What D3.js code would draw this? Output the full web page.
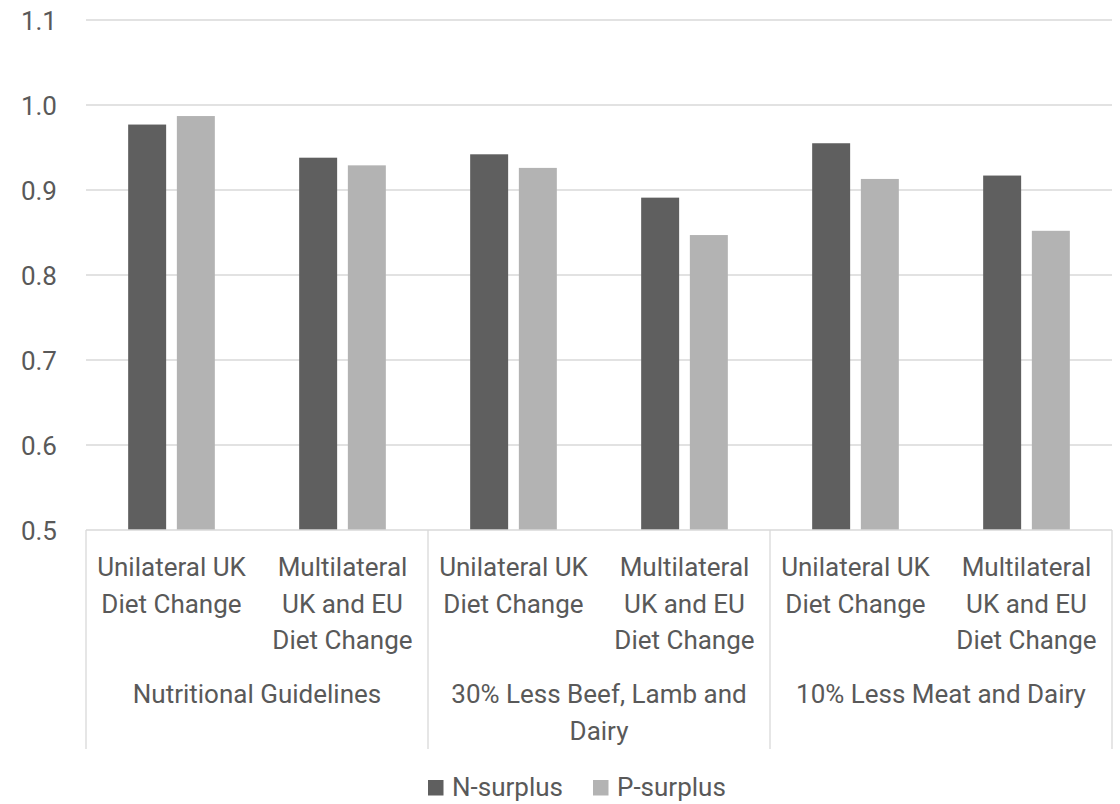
<!DOCTYPE html>
<html>
<head>
<meta charset="utf-8">
<script src="https://cdn.jsdelivr.net/npm/d3@7"></script>
<style>
  html, body { margin: 0; padding: 0; background: #ffffff; }
  svg { display: block; }
  text { font-family: Roboto, "Noto Sans", sans-serif; fill: #595959; }
</style>
</head>
<body>
<svg id="chart" width="1120" height="804"></svg>
<script>
// Scenario groups and the two diet-change variants within each
const groups = [
  ["Nutritional Guidelines"],
  ["30% Less Beef, Lamb and", "Dairy"],
  ["10% Less Meat and Dairy"]
];
const subLabels = [
  ["Unilateral UK", "Diet Change"],
  ["Multilateral", "UK and EU", "Diet Change"]
];
const seriesNames = ["N-surplus", "P-surplus"];
const nSurplus = [0.977, 0.938, 0.942, 0.891, 0.955, 0.917];
const pSurplus = [0.987, 0.929, 0.926, 0.847, 0.913, 0.852];
const yTicks = [0.5, 0.6, 0.7, 0.8, 0.9, 1.0, 1.1];

const colors = { "N-surplus": "#5f5f5f", "P-surplus": "#b3b3b3" };
const gridColor = "#d9d9d9";
const fontSize = 26;

const svg = d3.select("#chart");
const plot = { left: 86, right: 1112, top: 20, bottom: 530 };

// One slot per (group, variant) pair
const slots = [];
groups.forEach((g, gi) => subLabels.forEach((s, si) => slots.push({ gi, si, key: gi + "-" + si })));

const x = d3.scaleBand()
  .domain(slots.map(d => d.key))
  .range([plot.left, plot.right])
  .paddingInner(0).paddingOuter(0);

const xInner = d3.scaleBand()
  .domain(seriesNames)
  .range([0, x.bandwidth()])
  .paddingInner(0.22)
  .paddingOuter(0.866);

const y = d3.scaleLinear().domain([0.5, 1.1]).range([plot.bottom, plot.top]);

// Horizontal gridlines
svg.append("g")
  .selectAll("line")
  .data(yTicks.filter(t => t > 0.5))
  .join("line")
  .attr("x1", plot.left).attr("x2", plot.right)
  .attr("y1", d => y(d)).attr("y2", d => y(d))
  .attr("stroke", gridColor).attr("stroke-width", 1.3);

// Y axis labels
const yAxis = d3.axisLeft(y).tickValues(yTicks).tickFormat(d3.format(".1f")).tickSize(0).tickPadding(0);
const yg = svg.append("g").attr("transform", `translate(57,0)`).call(yAxis);
yg.select(".domain").remove();
yg.selectAll("text")
  .attr("font-size", fontSize)
  .attr("font-family", "Roboto, 'Noto Sans', sans-serif")
  .attr("fill", "#595959")
  .attr("dy", "0.36em");

// Bars
const rows = slots.map((s, i) => ({ key: s.key, values: [nSurplus[i], pSurplus[i]] }));
svg.append("g")
  .selectAll("g")
  .data(rows)
  .join("g")
  .attr("transform", d => `translate(${x(d.key)},0)`)
  .selectAll("rect")
  .data(d => seriesNames.map((name, k) => ({ name, value: d.values[k] })))
  .join("rect")
  .attr("x", d => xInner(d.name))
  .attr("width", xInner.bandwidth())
  .attr("y", d => y(d.value))
  .attr("height", d => y(0.5) - y(d.value))
  .attr("fill", d => colors[d.name]);

// Category axis baseline and group separators
const axisG = svg.append("g");
axisG.append("line")
  .attr("x1", plot.left).attr("x2", plot.right)
  .attr("y1", plot.bottom).attr("y2", plot.bottom)
  .attr("stroke", gridColor).attr("stroke-width", 1.3);

const sepX = d3.range(groups.length + 1).map(i => i === groups.length ? plot.right : x(i + "-0"));
axisG.selectAll("line.sep")
  .data(sepX)
  .join("line")
  .attr("class", "sep")
  .attr("x1", d => d).attr("x2", d => d)
  .attr("y1", plot.bottom).attr("y2", 749)
  .attr("stroke", gridColor).attr("stroke-width", 1.3);

const lineH = 36.7;

// Variant labels under each pair of bars
axisG.selectAll("text.sub")
  .data(slots)
  .join("text")
  .attr("class", "sub")
  .attr("x", d => x(d.key) + x.bandwidth() / 2)
  .attr("y", 576)
  .attr("text-anchor", "middle")
  .attr("font-size", fontSize)
  .each(function (d) {
    d3.select(this).selectAll("tspan")
      .data(subLabels[d.si])
      .join("tspan")
      .attr("x", x(d.key) + x.bandwidth() / 2)
      .attr("dy", (t, i) => i === 0 ? 0 : lineH)
      .text(t => t);
  });

// Scenario group labels
axisG.selectAll("text.grp")
  .data(groups)
  .join("text")
  .attr("class", "grp")
  .attr("y", 703)
  .attr("text-anchor", "middle")
  .attr("font-size", fontSize)
  .each(function (g, gi) {
    const cx = (x(gi + "-0") + x(gi + "-1") + x.bandwidth()) / 2;
    d3.select(this).selectAll("tspan")
      .data(g)
      .join("tspan")
      .attr("x", cx)
      .attr("dy", (t, i) => i === 0 ? 0 : lineH)
      .text(t => t);
  });

// Legend
const legend = svg.append("g");
const legendItems = [
  { name: "N-surplus", x: 428 },
  { name: "P-surplus", x: 593 }
];
legendItems.forEach(item => {
  legend.append("rect")
    .attr("x", item.x).attr("y", 780)
    .attr("width", 15.5).attr("height", 15.5)
    .attr("fill", colors[item.name]);
  legend.append("text")
    .attr("x", item.x + 24).attr("y", 796)
    .attr("font-size", fontSize)
    .text(item.name);
});
</script>
</body>
</html>
